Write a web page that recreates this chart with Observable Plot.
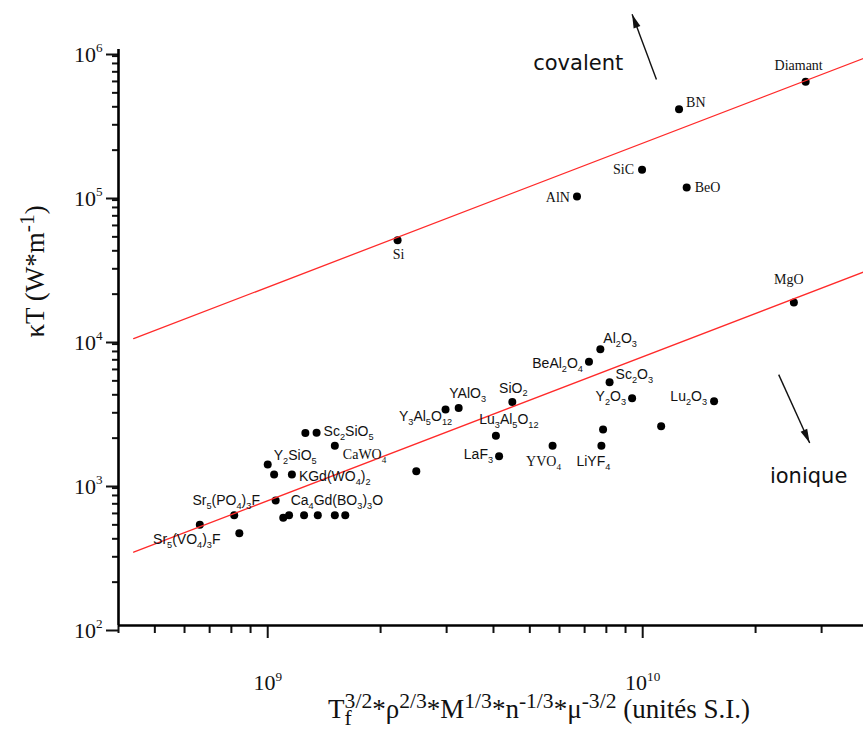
<!DOCTYPE html>
<html><head><meta charset="utf-8">
<script src="https://cdn.jsdelivr.net/npm/d3@7"></script>
<script src="https://cdn.jsdelivr.net/npm/@observablehq/plot@0.6"></script>
<style>
body{margin:0;background:#fff}
#chart{width:863px;height:729px}
</style>
</head><body><div id="chart"></div>
<script>
// ---------- data ----------
const materials = ["Diamant","BN","SiC","BeO","AlN","Si","MgO","Al_2O_3","BeAl_2O_4","Sc_2O_3","Y_2O_3","Lu_2O_3","","","LiYF_4","YVO_4","LaF_3","Lu_3Al_5O_{12}","SiO_2","YAlO_3","Y_3Al_5O_{12}","","","Sc_2SiO_5","CaWO_4","Y_2SiO_5","","KGd(WO_4)_2","Ca_4Gd(BO_3)_3O","Sr_5(PO_4)_3F","Sr_5(VO_4)_3F","","","","","","",""];
const param = [2.72e10,1.25e10,9.96e9,1.31e10,6.68e9,2.22e9,2.53e10,7.71e9,7.19e9,8.16e9,9.37e9,1.55e10,1.12e10,7.84e9,7.76e9,5.75e9,4.14e9,4.06e9,4.49e9,3.23e9,2.98e9,2.49e9,1.26e9,1.35e9,1.51e9,1.00e9,1.04e9,1.16e9,1.05e9,8.14e8,6.59e8,8.40e8,1.10e9,1.14e9,1.25e9,1.36e9,1.51e9,1.61e9];
const kappaT = [5.97e5,3.85e5,1.46e5,1.10e5,9.53e4,4.74e4,1.75e4,8.28e3,6.78e3,4.88e3,3.78e3,3.61e3,2.42e3,2.30e3,1.77e3,1.77e3,1.50e3,2.08e3,3.56e3,3.24e3,3.16e3,1.18e3,2.17e3,2.18e3,1.77e3,1.31e3,1.12e3,1.12e3,739,584,501,438,560,584,584,584,584,584];

// fitted lines (end points)
const lineX = [4.39e8, 3.88e10];
const covalentY = [9.82e3, 8.67e5];
const ioniqueY = [323, 2.85e4];

// annotations
const zoneNames = ["covalent", "ionique"];
const zoneX = [6.73e9, 2.77e10];
const zoneY = [8.05e5, 1085];
const arrowTailX = [1.088e10, 2.305e10];
const arrowTailY = [6.2e5, 5.52e3];
const arrowTipX = [9.37e9, 2.788e10];
const arrowTipY = [1.76e6, 1.849e3];

// axes
const xDomain = [4e8, 3.88e10];
const yDomain = [1e2, 1e6];
const xMajor = [1e9, 1e10];
const xMinor = [4e8,5e8,6e8,7e8,8e8,9e8,2e9,3e9,4e9,5e9,6e9,7e9,8e9,9e9,2e10,3e10];
const yMajor = [1e2,1e3,1e4,1e5,1e6];
const yMinor = [2,3,4].flatMap(k => [2,3,4,5,6,7,8,9].map(m => m * 10 ** k)).concat([2,3,4,5,6,7,8,9].map(m => m * 1e5));
const xTitle = "T_f^{3/2}*ρ^{2/3}*M^{1/3}*n^{-1/3}*μ^{-3/2} (unités S.I.)";
const yTitle = "κT (W*m^{-1})";

// ---------- layout / styles ----------
const W = 863, H = 729, ML = 118, MR = 0, MT = 49, MB = 104;
const serifLabels = new Set(["Diamant","BN","SiC","BeO","AlN","Si","MgO","YVO_4","CaWO_4"]);
const labelLayout = {
 "Diamant": [-7,-16,"middle"],
 "BN": [7,-7,"start"],
 "SiC": [-8,0,"end"],
 "BeO": [8,0,"start"],
 "AlN": [-7,1,"end"],
 "Si": [1,14,"middle"],
 "MgO": [-5,-23,"middle"],
 "Al_2O_3": [3,-11,"start"],
 "BeAl_2O_4": [-6,2,"end"],
 "Sc_2O_3": [6,-8,"start"],
 "Y_2O_3": [-6,-2,"end"],
 "Lu_2O_3": [-7,-5,"end"],
 "LiYF_4": [-8,16,"middle"],
 "YVO_4": [-9,16,"middle"],
 "LaF_3": [-6,-2,"end"],
 "Lu_3Al_5O_{12}": [13,-16,"middle"],
 "SiO_2": [1,-14,"middle"],
 "YAlO_3": [9,-14,"middle"],
 "Y_3Al_5O_{12}": [-20,7,"middle"],
 "Sc_2SiO_5": [7,-1,"start"],
 "CaWO_4": [8,9,"start"],
 "Y_2SiO_5": [6,-9,"start"],
 "KGd(WO_4)_2": [7,2,"start"],
 "Ca_4Gd(BO_3)_3O": [15,0,"start"],
 "Sr_5(PO_4)_3F": [-8,-15,"middle"],
 "Sr_5(VO_4)_3F": [-13,15,"middle"]
};

const points = materials.map((name, i) => ({name, x: param[i], y: kappaT[i]}));
const lines = [
  ...lineX.map((x, i) => ({group: "covalent", x, y: covalentY[i]})),
  ...lineX.map((x, i) => ({group: "ionique", x, y: ioniqueY[i]}))
];
const zones = zoneNames.map((t, i) => ({t, x: zoneX[i], y: zoneY[i]}));
const arrows = arrowTailX.map((_, i) => ({x1: arrowTailX[i], y1: arrowTailY[i], x2: arrowTipX[i], y2: arrowTipY[i]}));

const sx = Plot.scale({x: {type: "log", domain: xDomain, range: [ML, W - MR]}});
const sy = Plot.scale({y: {type: "log", domain: yDomain, range: [H - MB, MT]}});
function headSymbol(a) {
  const r = a * Math.PI / 180, c = Math.cos(r), s = Math.sin(r);
  const pts = [[0,0],[-3.6,14],[3.6,14]].map(([px,py]) => [px*c - py*s, px*s + py*c]);
  return {draw(ctx) { ctx.moveTo(...pts[0]); ctx.lineTo(...pts[1]); ctx.lineTo(...pts[2]); ctx.closePath(); }};
}

const serif = "'Liberation Serif', 'Times New Roman', serif";
const sans = "'Liberation Sans', Arial, sans-serif";
const TICK_FONT = 22;

const labelMarks = points.filter(d => d.name).map(d => {
  const [dx, dy, anchor] = labelLayout[d.name];
  return Plot.text([d], {x: "x", y: "y", text: "name", dx, dy, textAnchor: anchor,
    fontFamily: serifLabels.has(d.name) ? serif : sans, fontSize: 14, fill: "#111"});
});

const arrowMarks = arrows.map(a => {
  const ang = Math.atan2(sx.apply(a.x2) - sx.apply(a.x1), -(sy.apply(a.y2) - sy.apply(a.y1))) * 180 / Math.PI;
  return [
    Plot.link([a], {x1: "x1", y1: "y1", x2: "x2", y2: "y2", stroke: "#111", strokeWidth: 1.4}),
    Plot.dot([a], {x: "x2", y: "y2", symbol: headSymbol(ang), fill: "#111", stroke: "none"})
  ];
}).flat();

const chart = Plot.plot({
  width: W, height: H, marginLeft: ML, marginRight: MR, marginTop: MT, marginBottom: MB,
  style: {fontFamily: serif, background: "white", overflow: "visible", color: "#111"},
  x: {type: "log", domain: xDomain},
  y: {type: "log", domain: yDomain},
  marks: [
    Plot.axisY({ticks: yMinor, tickSize: 6, tickFormat: () => "", label: null, strokeWidth: 2}),
    Plot.axisY({ticks: yMajor, tickSize: 12, tickPadding: 4, tickFormat: d => `10^{${Math.round(Math.log10(d))}}`,
      label: null, strokeWidth: 2, fontSize: TICK_FONT, dy: 5}),
    Plot.axisX({ticks: xMinor, tickSize: 8, tickFormat: () => "", label: null, strokeWidth: 2}),
    Plot.axisX({ticks: xMajor, tickSize: 13, tickPadding: 36, tickFormat: d => `10^{${Math.round(Math.log10(d))}}`,
      label: null, strokeWidth: 2, fontSize: TICK_FONT}),
    Plot.ruleX([xDomain[0]], {stroke: "#000", strokeWidth: 2.6}),
    Plot.ruleY([yDomain[0]], {stroke: "#000", strokeWidth: 2.6}),
    Plot.text([xTitle], {frameAnchor: "bottom", text: d => d, dx: 48, dy: 92, fontSize: 27, fontFamily: serif, fill: "#111"}),
    Plot.text([yTitle], {frameAnchor: "left", text: d => d, dx: -83, rotate: -90, fontSize: 27, fontFamily: serif, fill: "#111"}),
    Plot.dot(points, {x: "x", y: "y", r: 4, fill: "#000"}),
    Plot.line(lines, {x: "x", y: "y", z: "group", stroke: "#ff2a2a", strokeWidth: 1.3}),
    ...labelMarks,
    ...arrowMarks,
    Plot.text(zones, {x: "x", y: "y", text: "t", fontFamily: "'DejaVu Sans', sans-serif", fontSize: 21, fill: "#111"})
  ]
});
document.getElementById("chart").appendChild(chart);

// render _x / ^{..} markup as real sub/superscript tspans
function parseRich(s) {
  const segs = []; let buf = "", i = 0;
  while (i < s.length) {
    const c = s[i];
    if (c === "_" || c === "^") {
      if (buf) { segs.push({type: "normal", text: buf}); buf = ""; }
      i++;
      let g;
      if (s[i] === "{") { const j = s.indexOf("}", i); g = s.slice(i + 1, j); i = j + 1; }
      else { g = s[i]; i++; }
      segs.push({type: c === "_" ? "sub" : "sup", text: g});
    } else { buf += c; i++; }
  }
  if (buf) segs.push({type: "normal", text: buf});
  return segs;
}
const NS = "http://www.w3.org/2000/svg";
chart.querySelectorAll("text").forEach(t => {
  if (t.children.length) return;
  const s = t.textContent;
  if (!/[_^]/.test(s)) return;
  const isTick = /^10\^/.test(s);
  if (isTick) t.style.fontSize = TICK_FONT + "px";
  const fs = parseFloat(getComputedStyle(t).fontSize);
  const isTitle = !isTick && fs > 22;
  const ratio = isTick ? 0.6 : isTitle ? 0.8 : 0.66;
  const supShift = isTitle ? -0.36 : -0.42;
  t.textContent = "";
  let cur = 0, prev = null;
  for (const seg of parseRich(s)) {
    const ts = document.createElementNS(NS, "tspan");
    ts.textContent = seg.text;
    const target = seg.type === "sub" ? 0.28 * fs : seg.type === "sup" ? supShift * fs : 0;
    if (seg.type !== "normal") ts.setAttribute("font-size", (ratio * fs).toFixed(1));
    if (target - cur) ts.setAttribute("dy", (target - cur).toFixed(2));
    t.appendChild(ts);
    if (seg.type === "sup" && prev && prev.type === "sub") ts.setAttribute("dx", (-prev.el.getComputedTextLength()).toFixed(2));
    cur = target; prev = {type: seg.type, el: ts};
  }
});
</script>
</body></html>
